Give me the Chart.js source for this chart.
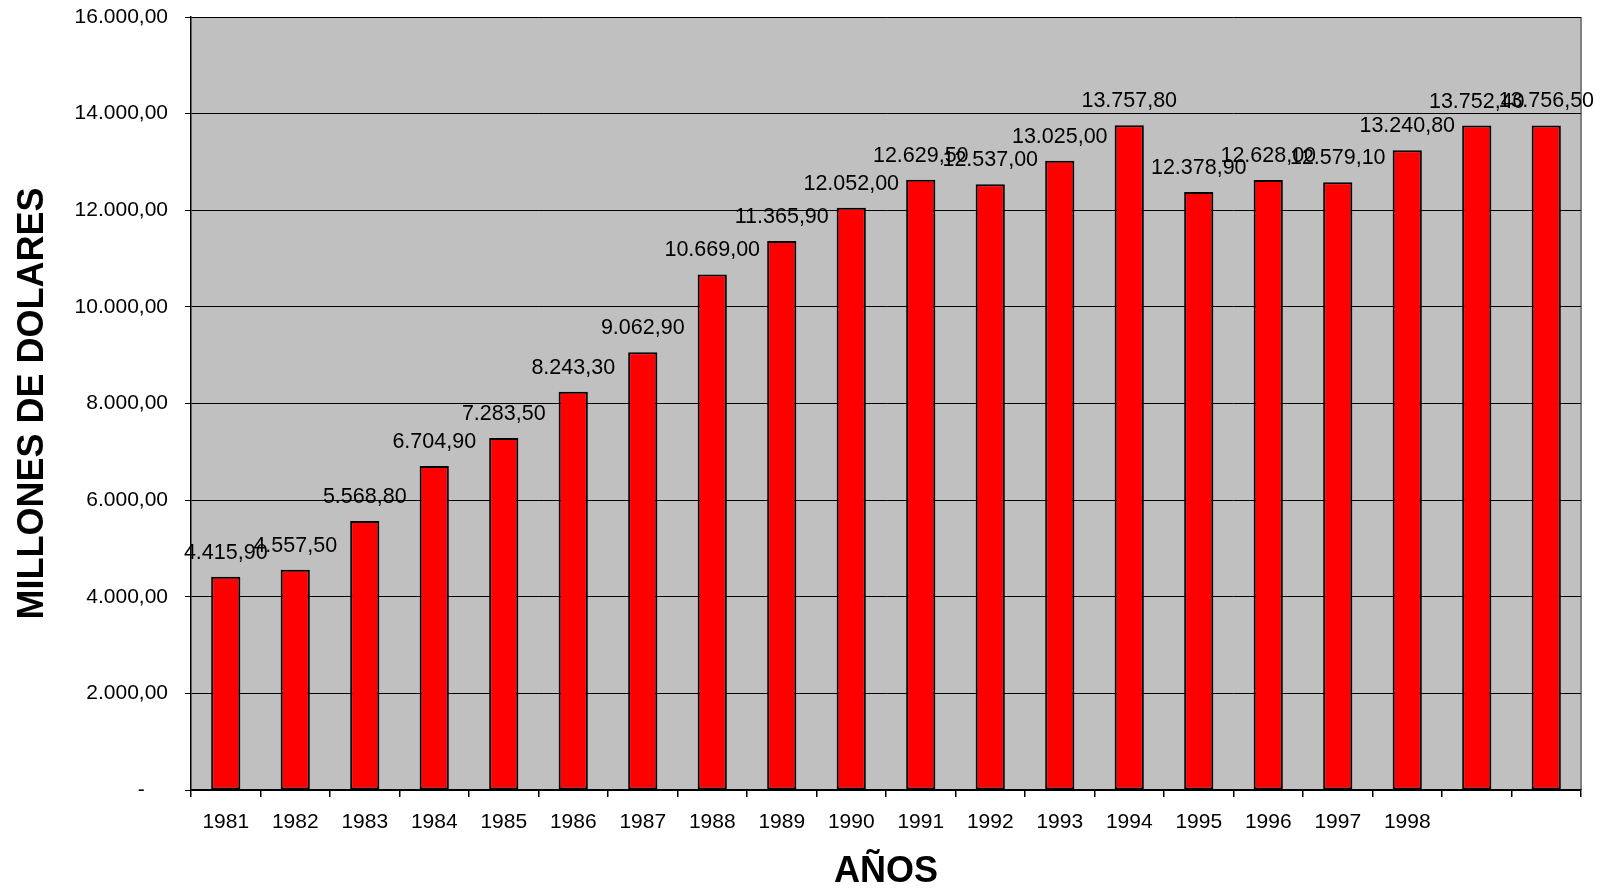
<!DOCTYPE html>
<html>
<head>
<meta charset="utf-8">
<script src="https://cdn.jsdelivr.net/npm/chart.js@4"></script>
<style>
  html, body { margin: 0; padding: 0; background: #fff; }
  #wrap { width: 1601px; height: 890px; position: relative; }
</style>
</head>
<body>
<div id="wrap"><canvas id="grafico"></canvas></div>
<script>
// datos
const anios = ['1981', '1982', '1983', '1984', '1985', '1986', '1987', '1988', '1989', '1990',
               '1991', '1992', '1993', '1994', '1995', '1996', '1997', '1998', '', ''];
const valores = [4415.9, 4557.5, 5568.8, 6704.9, 7283.5, 8243.3, 9062.9, 10669.0, 11365.9, 12052.0,
                 12629.5, 12537.0, 13025.0, 13757.8, 12378.9, 12628.0, 12579.1, 13240.8, 13752.4, 13756.5];
const yMin = 0, yMax = 16000, yPaso = 2000;

const FUENTE = 'Arial, "Liberation Sans", sans-serif';

function fmtNum(v) {
    const partes = v.toFixed(2).split('.');
    const ent = partes[0].replace(/\B(?=(\d{3})+(?!\d))/g, '.');
    return ent + ',' + partes[1];
}

/* fondo gris del area de trazado */
const fondoPlot = {
    id: 'fondoPlot',
    beforeDraw(chart) {
        const { ctx, chartArea: a } = chart;
        ctx.save();
        ctx.fillStyle = '#c0c0c0';
        ctx.fillRect(a.left, a.top, a.right - a.left, a.bottom - a.top);
        ctx.strokeStyle = '#808080';
        ctx.lineWidth = 2;
        ctx.beginPath();
        ctx.moveTo(a.right, a.top);
        ctx.lineTo(a.right, a.bottom);
        ctx.stroke();
        ctx.restore();
    }
};

/* etiquetas de valor sobre cada barra */
const etiquetas = {
    id: 'etiquetas',
    afterDatasetsDraw(chart) {
        const { ctx } = chart;
        const meta = chart.getDatasetMeta(0);
        ctx.save();
        ctx.font = '21.5px ' + FUENTE;
        ctx.fillStyle = '#000';
        ctx.textAlign = 'center';
        ctx.textBaseline = 'middle';
        meta.data.forEach((bar, i) => {
            ctx.fillText(fmtNum(valores[i]), bar.x, bar.y - 24);
        });
        ctx.restore();
    }
};

new Chart(document.getElementById('grafico'), {
    type: 'bar',
    data: {
        labels: anios,
        datasets: [{
            data: valores,
            backgroundColor: '#ff0000',
            borderColor: '#000000',
            borderWidth: 2,
            borderSkipped: false,
            barPercentage: 0.42,
            categoryPercentage: 1.0,
        }],
    },
    options: {
        responsive: true,
        maintainAspectRatio: false,
        animation: false,
        layout: { padding: { left: 0, right: 20, top: 17, bottom: 0 } },
        plugins: {
            legend: { display: false },
            tooltip: { enabled: false },
        },
        scales: {
            x: {
                grid: {
                    display: true,
                    offset: true,
                    drawOnChartArea: false,
                    color: '#000',
                    tickLength: 7,
                    lineWidth: 1.5,
                },
                border: { display: true, color: '#000', width: 1.5 },
                ticks: {
                    color: '#000',
                    font: { size: 21, family: FUENTE },
                    padding: 13,
                    maxRotation: 0,
                    autoSkip: false,
                },
                title: {
                    display: true,
                    text: 'AÑOS',
                    color: '#000',
                    font: { size: 36, weight: 'bold', family: FUENTE },
                    padding: { top: 0, bottom: -4 },
                },
                afterFit(scale) { scale.height = 100; },
            },
            y: {
                min: yMin,
                max: yMax,
                grid: {
                    color: '#000',
                    lineWidth: 1,
                    tickLength: 6,
                },
                border: { display: true, color: '#000', width: 1.5 },
                ticks: {
                    stepSize: yPaso,
                    color: '#000',
                    padding: 17,
                    font: { size: 21, family: FUENTE },
                    callback: (v) => v === 0 ? '-    ' : fmtNum(v),
                },
                title: {
                    display: true,
                    text: 'MILLONES DE DOLARES',
                    color: '#000',
                    font: { size: 36, weight: 'bold', family: FUENTE },
                    padding: { top: 11, bottom: 0 },
                },
                afterFit(scale) {
                    scale.width = 191;
                    scale.paddingTop = 0;
                    scale.paddingBottom = 0;
                },
            },
        },
    },
    plugins: [fondoPlot, etiquetas],
});
</script>
</body>
</html>
